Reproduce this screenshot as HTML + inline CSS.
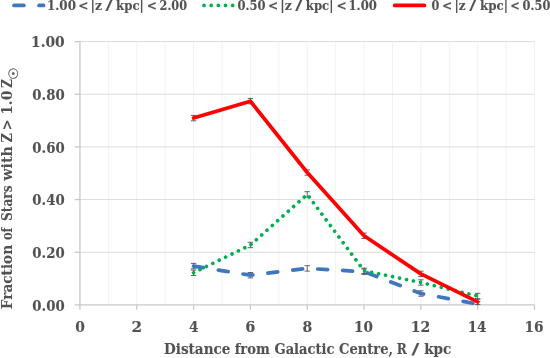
<!DOCTYPE html>
<html lang="en">
<head>
<meta charset="utf-8">
<title>Fraction of Stars with Z &gt; 1.0 Z☉ vs Distance from Galactic Centre</title>
<style>
html,body{margin:0;padding:0;background:#fff;}
body{width:550px;height:358px;overflow:hidden;}
svg{display:block;will-change:transform;}
text{font-family:"DejaVu Serif","Liberation Serif",serif;font-weight:bold;fill:#525252;stroke:#525252;stroke-width:0.12px;}
.sun{font-family:"DejaVu Sans","Liberation Sans",sans-serif;font-weight:normal;stroke-width:0.25px;}
</style>
</head>
<body>
<svg width="550" height="358" viewBox="0 0 550 358">
<defs><clipPath id="plot"><rect x="79.95" y="36.60" width="454.56" height="268.70"/></clipPath></defs>
<g stroke="#f2f2f2" stroke-width="1" fill="none">
<line x1="108.36" y1="41.60" x2="108.36" y2="304.90"/>
<line x1="136.77" y1="41.60" x2="136.77" y2="304.90"/>
<line x1="165.18" y1="41.60" x2="165.18" y2="304.90"/>
<line x1="193.59" y1="41.60" x2="193.59" y2="304.90"/>
<line x1="222.00" y1="41.60" x2="222.00" y2="304.90"/>
<line x1="250.41" y1="41.60" x2="250.41" y2="304.90"/>
<line x1="278.82" y1="41.60" x2="278.82" y2="304.90"/>
<line x1="307.23" y1="41.60" x2="307.23" y2="304.90"/>
<line x1="335.64" y1="41.60" x2="335.64" y2="304.90"/>
<line x1="364.05" y1="41.60" x2="364.05" y2="304.90"/>
<line x1="392.46" y1="41.60" x2="392.46" y2="304.90"/>
<line x1="420.87" y1="41.60" x2="420.87" y2="304.90"/>
<line x1="449.28" y1="41.60" x2="449.28" y2="304.90"/>
<line x1="477.69" y1="41.60" x2="477.69" y2="304.90"/>
<line x1="506.10" y1="41.60" x2="506.10" y2="304.90"/>
<line x1="534.51" y1="41.60" x2="534.51" y2="304.90"/>
</g>
<g stroke="#dcdcdc" stroke-width="1" fill="none">
<line x1="79.95" y1="252.24" x2="534.51" y2="252.24"/>
<line x1="79.95" y1="199.58" x2="534.51" y2="199.58"/>
<line x1="79.95" y1="146.92" x2="534.51" y2="146.92"/>
<line x1="79.95" y1="94.26" x2="534.51" y2="94.26"/>
<line x1="79.95" y1="41.60" x2="534.51" y2="41.60"/>
</g>
<g stroke="#c8c8c8" stroke-width="1.3" fill="none">
<line x1="79.95" y1="41.60" x2="79.95" y2="304.90"/>
<line x1="79.95" y1="304.90" x2="534.51" y2="304.90"/>
<line x1="79.95" y1="304.90" x2="79.95" y2="309.80"/>
<line x1="136.77" y1="304.90" x2="136.77" y2="309.80"/>
<line x1="193.59" y1="304.90" x2="193.59" y2="309.80"/>
<line x1="250.41" y1="304.90" x2="250.41" y2="309.80"/>
<line x1="307.23" y1="304.90" x2="307.23" y2="309.80"/>
<line x1="364.05" y1="304.90" x2="364.05" y2="309.80"/>
<line x1="420.87" y1="304.90" x2="420.87" y2="309.80"/>
<line x1="477.69" y1="304.90" x2="477.69" y2="309.80"/>
<line x1="534.51" y1="304.90" x2="534.51" y2="309.80"/>
<line x1="74.65" y1="304.90" x2="79.95" y2="304.90"/>
<line x1="74.65" y1="252.24" x2="79.95" y2="252.24"/>
<line x1="74.65" y1="199.58" x2="79.95" y2="199.58"/>
<line x1="74.65" y1="146.92" x2="79.95" y2="146.92"/>
<line x1="74.65" y1="94.26" x2="79.95" y2="94.26"/>
<line x1="74.65" y1="41.60" x2="79.95" y2="41.60"/>
</g>
<g stroke="#4a4a4a" stroke-width="0.85" fill="none" clip-path="url(#plot)">
<path d="M193.59 263.40V268.80M190.89 263.40H196.29M190.89 268.80H196.29"/>
<path d="M250.41 272.50V277.90M247.71 272.50H253.11M247.71 277.90H253.11"/>
<path d="M307.23 265.70V271.10M304.53 265.70H309.93M304.53 271.10H309.93"/>
<path d="M364.05 269.00V274.40M361.35 269.00H366.75M361.35 274.40H366.75"/>
<path d="M420.87 290.80V296.20M418.17 290.80H423.57M418.17 296.20H423.57"/>
<path d="M477.69 301.40V306.80M474.99 301.40H480.39M474.99 306.80H480.39"/>
</g>
<polyline points="193.59,266.10 250.41,275.20 307.23,268.40 364.05,271.70 420.87,293.50 477.69,304.10" fill="none" stroke="#3e76bf" stroke-width="3.70" stroke-linecap="round" stroke-linejoin="round" stroke-dasharray="9.9 15.15"/>
<g stroke="#4a4a4a" stroke-width="0.85" fill="none" clip-path="url(#plot)">
<path d="M193.59 270.10V275.50M190.89 270.10H196.29M190.89 275.50H196.29"/>
<path d="M250.41 242.30V247.70M247.71 242.30H253.11M247.71 247.70H253.11"/>
<path d="M307.23 191.70V197.10M304.53 191.70H309.93M304.53 197.10H309.93"/>
<path d="M364.05 268.10V273.50M361.35 268.10H366.75M361.35 273.50H366.75"/>
<path d="M420.87 279.80V285.20M418.17 279.80H423.57M418.17 285.20H423.57"/>
<path d="M477.69 293.33V298.73M474.99 293.33H480.39M474.99 298.73H480.39"/>
</g>
<polyline points="193.59,272.80 250.41,245.00 307.23,194.40 364.05,270.80 420.87,282.50 477.69,296.03" fill="none" stroke="#00b050" stroke-width="3.70" stroke-linecap="round" stroke-linejoin="round" stroke-dasharray="0.01 7.115"/>
<g stroke="#4a4a4a" stroke-width="0.85" fill="none" clip-path="url(#plot)">
<path d="M193.59 115.40V120.80M190.89 115.40H196.29M190.89 120.80H196.29"/>
<path d="M250.41 98.45V103.85M247.71 98.45H253.11M247.71 103.85H253.11"/>
<path d="M307.23 169.80V175.20M304.53 169.80H309.93M304.53 175.20H309.93"/>
<path d="M364.05 233.10V238.50M361.35 233.10H366.75M361.35 238.50H366.75"/>
<path d="M420.87 271.20V276.60M418.17 271.20H423.57M418.17 276.60H423.57"/>
<path d="M477.69 299.20V304.60M474.99 299.20H480.39M474.99 304.60H480.39"/>
</g>
<polyline points="193.59,118.10 250.41,101.15 307.23,172.50 364.05,235.80 420.87,273.90 477.69,301.90" fill="none" stroke="#ff0000" stroke-width="3.70" stroke-linecap="round" stroke-linejoin="round"/>
<text y="310.65" font-size="15.6"><tspan x="32.32" textLength="32.35" lengthAdjust="spacingAndGlyphs">0.00</tspan></text>
<text y="257.99" font-size="15.6"><tspan x="32.32" textLength="32.35" lengthAdjust="spacingAndGlyphs">0.20</tspan></text>
<text y="205.33" font-size="15.6"><tspan x="32.32" textLength="32.35" lengthAdjust="spacingAndGlyphs">0.40</tspan></text>
<text y="152.67" font-size="15.6"><tspan x="32.32" textLength="32.35" lengthAdjust="spacingAndGlyphs">0.60</tspan></text>
<text y="100.01" font-size="15.6"><tspan x="32.32" textLength="32.35" lengthAdjust="spacingAndGlyphs">0.80</tspan></text>
<text y="47.35" font-size="15.6"><tspan x="31.05" textLength="33.65" lengthAdjust="spacingAndGlyphs">1.00</tspan></text>
<text y="331.60" font-size="15.6"><tspan x="75.20" textLength="9.67" lengthAdjust="spacingAndGlyphs">0</tspan></text>
<text y="331.60" font-size="15.6"><tspan x="131.60" textLength="10.61" lengthAdjust="spacingAndGlyphs">2</tspan></text>
<text y="331.60" font-size="15.6"><tspan x="188.95" textLength="9.55" lengthAdjust="spacingAndGlyphs">4</tspan></text>
<text y="331.60" font-size="15.6"><tspan x="245.31" textLength="10.08" lengthAdjust="spacingAndGlyphs">6</tspan></text>
<text y="331.60" font-size="15.6"><tspan x="302.40" textLength="9.81" lengthAdjust="spacingAndGlyphs">8</tspan></text>
<text y="331.60" font-size="15.6"><tspan x="354.02" textLength="18.96" lengthAdjust="spacingAndGlyphs">10</tspan></text>
<text y="331.60" font-size="15.6"><tspan x="410.79" textLength="19.53" lengthAdjust="spacingAndGlyphs">12</tspan></text>
<text y="331.60" font-size="15.6"><tspan x="467.67" textLength="18.86" lengthAdjust="spacingAndGlyphs">14</tspan></text>
<text y="331.60" font-size="15.6"><tspan x="524.47" textLength="19.08" lengthAdjust="spacingAndGlyphs">16</tspan></text>
<text y="354.30" font-size="15.6"><tspan x="163.98" textLength="66.55" lengthAdjust="spacingAndGlyphs">Distance</tspan> <tspan x="234.70" textLength="35.05" lengthAdjust="spacingAndGlyphs">from</tspan> <tspan x="274.50" textLength="59.92" lengthAdjust="spacingAndGlyphs">Galactic</tspan> <tspan x="339.10" textLength="54.03" lengthAdjust="spacingAndGlyphs">Centre,</tspan> <tspan x="396.84" textLength="10.03" lengthAdjust="spacingAndGlyphs">R</tspan> <tspan x="411.41" textLength="7.82" lengthAdjust="spacingAndGlyphs">/</tspan> <tspan x="424.15" textLength="27.04" lengthAdjust="spacingAndGlyphs">kpc</tspan></text>
<g transform="translate(11.80 308.80) rotate(-90) scale(1 0.94)"><text y="0" font-size="15.6" style="stroke-width:0.05px"><tspan x="-0.52" textLength="64.52" lengthAdjust="spacingAndGlyphs">Fraction</tspan> <tspan x="68.74" textLength="12.59" lengthAdjust="spacingAndGlyphs">of</tspan> <tspan x="87.87" textLength="35.59" lengthAdjust="spacingAndGlyphs">Stars</tspan> <tspan x="128.10" textLength="34.45" lengthAdjust="spacingAndGlyphs">with</tspan> <tspan x="166.39" textLength="9.46" lengthAdjust="spacingAndGlyphs">Z</tspan> <tspan x="178.32" textLength="11.13" lengthAdjust="spacingAndGlyphs">&gt;</tspan> <tspan x="194.05" textLength="23.98" lengthAdjust="spacingAndGlyphs">1.0</tspan> <tspan x="220.91" textLength="9.02" lengthAdjust="spacingAndGlyphs">Z</tspan><tspan class="sun" x="229.10" dy="6.32" font-size="13.8">☉</tspan></text></g>
<line x1="14.0" y1="5.45" x2="43.6" y2="5.45" stroke="#3e76bf" stroke-width="3.70" stroke-linecap="round" stroke-dasharray="9.9 15.15"/>
<line x1="204.0" y1="5.45" x2="233.6" y2="5.45" stroke="#00b050" stroke-width="3.70" stroke-linecap="round" stroke-dasharray="0.01 7.16"/>
<line x1="394.7" y1="5.45" x2="424.4" y2="5.45" stroke="#ff0000" stroke-width="3.70" stroke-linecap="round"/>
<text y="10.20" font-size="13.4"><tspan x="46.88" textLength="29.07" lengthAdjust="spacingAndGlyphs">1.00</tspan> <tspan x="78.33" textLength="10.24" lengthAdjust="spacingAndGlyphs">&lt;</tspan> <tspan x="90.50" textLength="11.54" lengthAdjust="spacingAndGlyphs">|z</tspan> <tspan x="105.62" textLength="6.98" lengthAdjust="spacingAndGlyphs">/</tspan> <tspan x="116.04" textLength="27.82" lengthAdjust="spacingAndGlyphs">kpc|</tspan> <tspan x="146.83" textLength="10.24" lengthAdjust="spacingAndGlyphs">&lt;</tspan> <tspan x="159.55" textLength="27.46" lengthAdjust="spacingAndGlyphs">2.00</tspan></text>
<text y="10.20" font-size="13.4"><tspan x="237.60" textLength="28.03" lengthAdjust="spacingAndGlyphs">0.50</tspan> <tspan x="268.03" textLength="10.24" lengthAdjust="spacingAndGlyphs">&lt;</tspan> <tspan x="280.20" textLength="11.54" lengthAdjust="spacingAndGlyphs">|z</tspan> <tspan x="295.32" textLength="6.98" lengthAdjust="spacingAndGlyphs">/</tspan> <tspan x="305.74" textLength="27.82" lengthAdjust="spacingAndGlyphs">kpc|</tspan> <tspan x="336.53" textLength="10.24" lengthAdjust="spacingAndGlyphs">&lt;</tspan> <tspan x="348.41" textLength="28.53" lengthAdjust="spacingAndGlyphs">1.00</tspan></text>
<text y="10.20" font-size="13.4"><tspan x="431.61" textLength="7.84" lengthAdjust="spacingAndGlyphs">0</tspan> <tspan x="442.03" textLength="10.24" lengthAdjust="spacingAndGlyphs">&lt;</tspan> <tspan x="454.45" textLength="11.17" lengthAdjust="spacingAndGlyphs">|z</tspan> <tspan x="469.32" textLength="6.87" lengthAdjust="spacingAndGlyphs">/</tspan> <tspan x="479.94" textLength="28.14" lengthAdjust="spacingAndGlyphs">kpc|</tspan> <tspan x="510.31" textLength="9.58" lengthAdjust="spacingAndGlyphs">&lt;</tspan> <tspan x="522.60" textLength="27.72" lengthAdjust="spacingAndGlyphs">0.50</tspan></text>
</svg>
</body>
</html>
